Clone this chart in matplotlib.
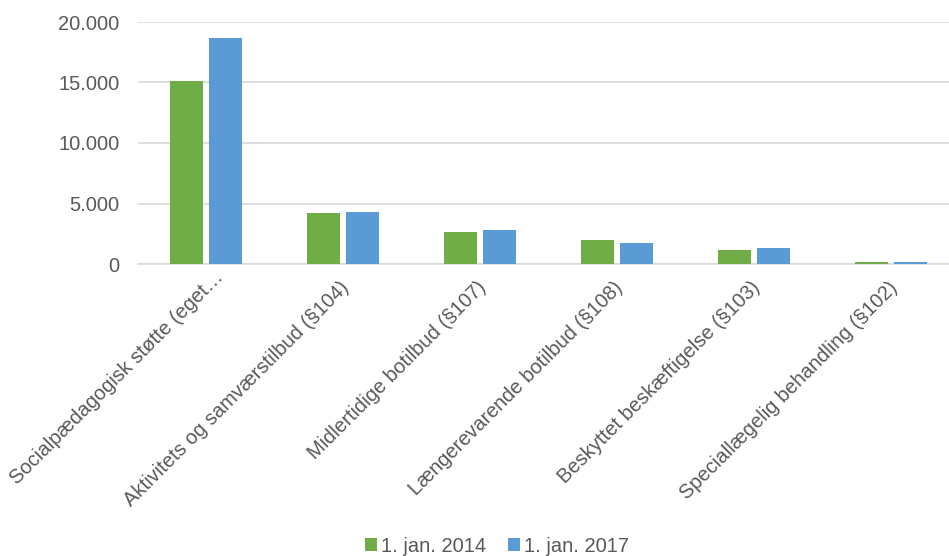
import matplotlib.pyplot as plt
import matplotlib.transforms as mtransforms
import numpy as np
from matplotlib.ticker import FuncFormatter

plt.rcParams["font.family"] = ["Liberation Sans", "DejaVu Sans"]

# Data
categories = [
    "Socialpædagogisk støtte (eget…",
    "Aktivitets og samværstilbud (§104)",
    "Midlertidige botilbud (§107)",
    "Længerevarende botilbud (§108)",
    "Beskyttet beskæftigelse (§103)",
    "Speciallægelig behandling (§102)",
]
values_2014 = [15100, 4190, 2640, 2000, 1130, 150]
values_2017 = [18700, 4300, 2810, 1760, 1320, 180]
series_labels = ["1. jan. 2014", "1. jan. 2017"]

green = "#70AD47"
blue = "#5B9BD5"
text_color = "#595959"
fs = 14.5

fig = plt.figure(figsize=(9.49, 5.56), dpi=100)
# plot area runs off the right edge of the image, as in the original
ax = fig.add_axes([137.5 / 949, (556 - 264) / 556, (949 - 137.5) / 949, (264 - 22) / 556])

x = np.arange(len(categories))
w = 0.24
gap = 0.022
ax.bar(x - w / 2 - gap, values_2014, width=w, color=green, label=series_labels[0], zorder=3)
ax.bar(x + w / 2 + gap, values_2017, width=w, color=blue, label=series_labels[1], zorder=3)

ax.set_xlim(-0.5, (949 - 137.5) / 137 - 0.5)
ax.set_ylim(0, 20000)
ax.set_yticks(range(0, 20001, 5000))
ax.yaxis.set_major_formatter(FuncFormatter(lambda v, p: f"{int(v):,}".replace(",", ".")))
ax.grid(axis="y", color="#d9d9d9", linewidth=1.2, zorder=0)
for s in ["top", "right", "left"]:
    ax.spines[s].set_visible(False)
ax.spines["bottom"].set_color("#d9d9d9")
ax.spines["bottom"].set_linewidth(1.2)
ax.tick_params(axis="both", length=0, colors=text_color, labelsize=fs)
ax.tick_params(axis="y", pad=13)
ax.tick_params(axis="x", pad=10)

ax.set_xticks(x - 0.025)
ax.set_xticklabels(categories, rotation=45, ha="right", rotation_mode="anchor", color=text_color)

# truncated first label sits a bit further up/right in the original
first = ax.get_xticklabels()[0]
first.set_transform(first.get_transform() + mtransforms.ScaledTranslation(0.11, 0.11, fig.dpi_scale_trans))

fig.legend(loc="center", ncol=2, frameon=False, bbox_to_anchor=(497 / 949, 10 / 556),
           handlelength=0.6, handleheight=0.6, handletextpad=0.2, columnspacing=1.1,
           labelcolor=text_color, prop={"size": fs})

fig.savefig("out.png", dpi=100)
